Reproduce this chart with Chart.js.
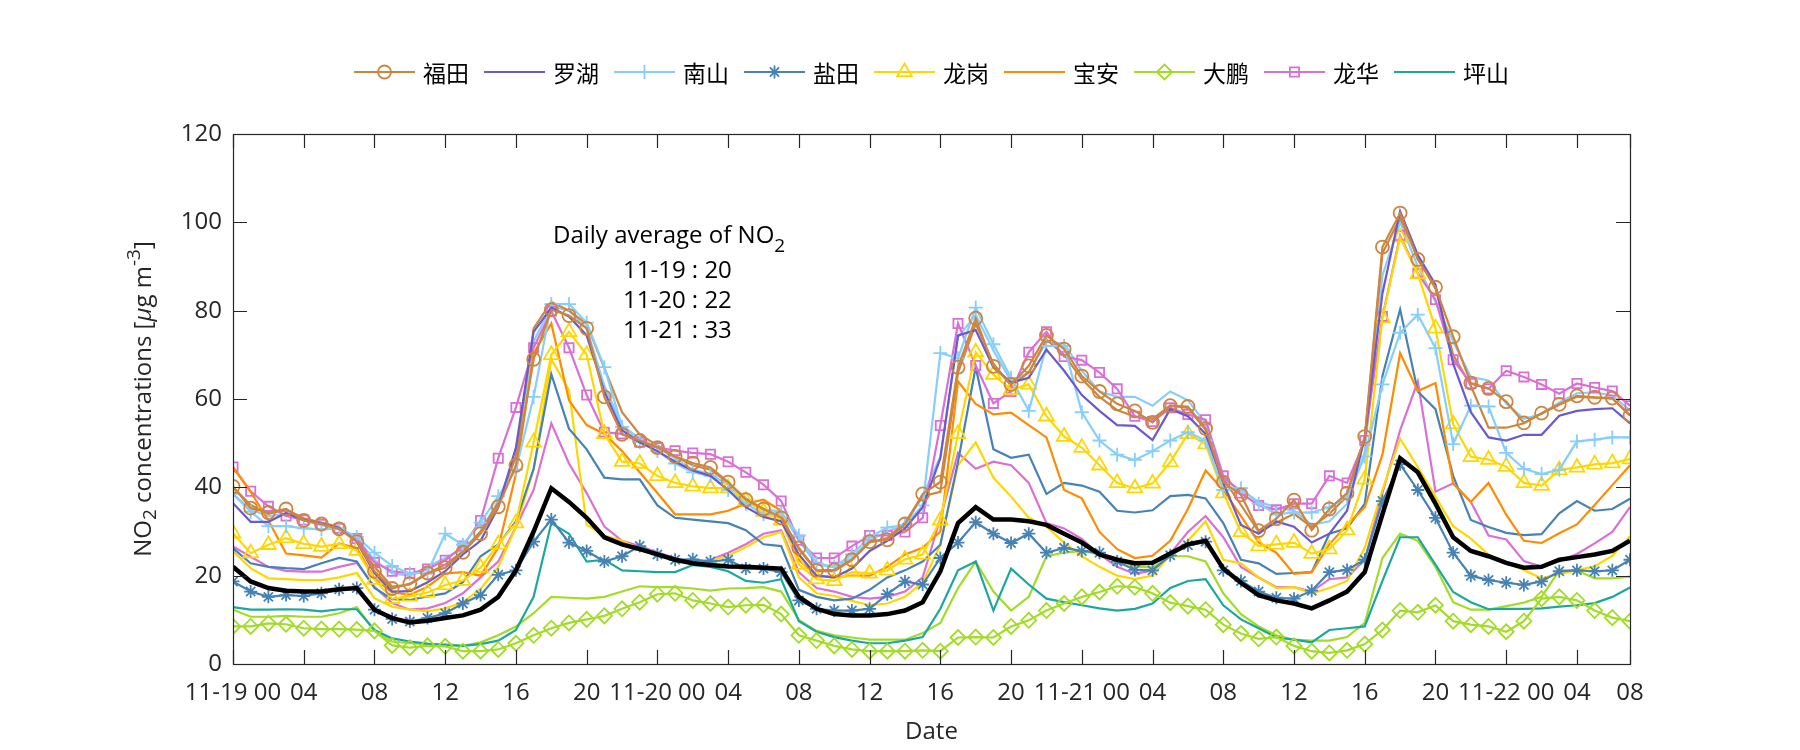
<!DOCTYPE html>
<html>
<head>
<meta charset="utf-8">
<script src="https://cdn.jsdelivr.net/npm/chart.js@4.4.1/dist/chart.umd.min.js"></script>
<style>
html,body{margin:0;padding:0;background:#ffffff;}
#wrap{width:1800px;height:750px;position:relative;}
canvas{display:block;}
</style>
</head>
<body>
<div id="wrap"><canvas id="c" width="1800" height="750" style="width:1800px;height:750px"></canvas></div>
<script>
// ---------- DATA ----------
// hourly steps from 11-19 00 (80 hourly points)
const hours = Array.from({length: 80}, (_, i) => i);
const tickHours = [0,4,8,12,16,20,24,28,32,36,40,44,48,52,56,60,64,68,72,76,79];
const tickLabels = ['11-19 00','04','08','12','16','20','11-20 00','04','08','12','16','20','11-21 00','04','08','12','16','20','11-22 00','04','08'];
const yTicksMax = 120;

const futian = [40.2,35.3,34.3,35.1,32.5,31.7,30.6,27.7,21.0,17.1,18.2,20.6,21.8,25.3,
 29.5,35.6,45.0,69.0,80.2,78.9,76.0,60.5,52.0,50.6,49.0,47.0,45.5,
 44.5,41.2,37.2,35.1,33.1,26.3,21.2,21.3,23.6,27.7,28.1,31.7,38.5,41.2,
 67.2,78.3,67.4,63.3,67.5,74.4,71.3,65.2,61.7,58.9,57.3,54.7,58.5,
 58.3,53.3,41.2,38.3,30.2,32.9,37.1,30.3,35.1,38.7,51.5,94.4,102.1,
 91.6,85.3,74.1,63.6,62.4,59.4,54.6,56.8,58.8,60.7,60.4,60.2,56.3];
const futian2 = [40.0,36.0,34.0,35.0,33.0,32.0,31.0,28.0,22.0,17.5,18.0,20.5,22.5,25.5,
 30.0,36.5,47.0,76.0,82.0,80.0,77.0,67.0,57.0,52.0,49.5,47.0,45.0,
 44.0,41.0,37.5,35.0,33.5,26.0,21.0,21.0,23.5,27.5,28.5,32.0,38.0,39.0,
 66.0,77.0,68.0,63.0,66.0,73.5,70.0,64.5,60.5,57.5,56.0,55.5,58.5,
 58.0,53.0,42.0,36.0,30.0,32.0,34.0,31.0,34.0,38.0,51.0,93.0,101.0,
 92.0,85.0,70.0,63.0,53.5,53.5,54.5,56.7,58.7,60.5,60.3,60.1,56.3];
const luohu = [36.4,32.2,32.2,34.2,32.6,31.8,30.8,27.7,20.6,16.4,16.5,18.5,21.0,24.8,
 27.9,35.5,49.0,75.2,80.7,78.7,74.4,61.7,52.9,50.2,48.2,45.8,43.8,
 42.6,39.4,35.5,33.3,32.3,24.8,20.0,19.6,21.6,25.6,27.9,30.7,35.5,46.6,
 74.4,75.6,67.2,63.7,64.8,71.2,66.4,60.9,57.3,54.1,53.9,50.7,57.7,
 56.1,52.1,41.0,31.5,29.5,32.3,31.1,27.5,29.5,34.7,51.3,83.9,102.5,
 92.6,85.9,68.0,57.0,51.3,50.6,51.9,51.9,56.2,57.3,57.7,57.9,54.5];
const nanshan = [38.5,34.5,31.2,31.2,30.7,30.5,30.7,28.8,25.2,22.2,20.5,20.7,29.5,27.0,
 32.0,38.0,44.0,60.5,81.5,81.5,77.3,67.2,53.7,50.2,48.2,45.4,43.4,
 42.6,39.4,36.3,33.9,34.3,29.1,22.8,22.0,24.8,28.7,30.9,31.5,35.9,70.4,
 69.2,80.7,72.4,64.8,57.3,72.0,72.0,57.0,50.6,47.4,46.2,48.2,50.6,
 52.5,50.6,39.4,39.8,36.3,33.9,34.3,34.3,35.5,38.0,47.0,63.3,75.0,
 79.1,71.5,49.8,58.5,58.3,47.8,44.2,43.0,44.0,50.4,50.8,51.3,51.3];
const nanshan2 = [38.5,35.0,33.5,34.0,32.5,31.5,30.5,28.5,23.5,20.5,20.0,22.0,24.0,26.0,
 30.0,37.0,47.0,73.0,81.0,80.0,76.0,63.0,54.0,51.0,49.0,46.5,44.0,
 43.0,40.5,37.5,35.0,34.5,28.0,22.5,22.0,24.0,28.0,30.0,31.5,38.0,47.0,
 74.0,79.0,71.0,64.0,66.0,73.0,72.5,66.4,61.7,60.5,60.5,58.5,61.7,
 59.7,54.5,41.8,39.4,36.7,35.5,34.7,31.5,32.3,36.3,48.0,88.0,100.0,
 90.0,82.0,73.0,65.0,64.2,59.0,55.5,56.6,59.2,61.3,61.5,60.8,57.4];
const yantian = [18.7,16.4,15.2,15.6,15.4,16.0,16.9,17.2,12.3,10.2,9.6,10.4,11.5,13.7,
 15.6,20.2,21.2,27.7,32.7,27.5,25.6,23.2,24.4,26.7,24.8,23.6,23.7,
 23.2,23.6,21.6,21.6,20.8,14.4,12.5,12.1,12.1,12.5,15.8,18.7,18.0,24.0,
 27.5,32.1,29.5,27.4,29.5,25.2,26.3,25.6,25.2,23.2,21.3,21.2,24.6,
 26.9,27.7,21.2,18.8,16.4,15.0,14.8,16.6,20.8,21.3,23.6,36.9,45.2,
 39.4,33.1,25.2,20.0,19.0,18.4,17.9,18.7,21.0,21.2,21.0,21.2,23.6];
const yantian2 = [26.2,22.8,22.0,21.7,21.5,22.8,24.0,23.2,17.2,14.7,14.5,15.3,16.0,18.5,
 24.4,27.1,32.3,44.2,65.6,53.3,48.6,42.2,41.8,41.8,35.9,33.1,32.7,
 32.3,31.9,30.3,27.1,26.7,16.8,15.2,14.4,14.8,16.8,19.6,21.2,23.2,27.0,
 45.8,67.2,48.6,46.7,47.4,38.5,41.0,40.4,39.0,34.7,34.3,34.8,38.0,
 38.3,37.5,31.9,23.6,22.8,20.4,20.6,20.8,29.5,30.7,36.3,65.2,80.3,
 61.7,57.7,42.6,32.6,31.0,29.7,29.2,29.4,34.1,36.9,34.7,35.1,37.4];
const longgang = [29.6,25.1,27.0,28.5,27.2,26.6,27.2,25.7,19.1,14.8,15.3,16.2,17.9,18.9,
 21.8,27.1,31.9,50.2,70.0,75.2,70.0,52.1,45.8,45.4,42.6,41.0,40.2,
 39.8,39.8,37.0,34.5,32.5,22.5,19.2,18.8,20.8,20.5,21.2,23.7,24.8,32.5,
 52.1,70.6,65.5,62.1,63.3,56.1,51.5,49.0,45.0,41.0,39.8,40.9,45.7,
 52.1,49.8,38.7,29.9,26.7,27.1,27.5,25.0,26.0,30.3,41.8,78.3,96.6,
 88.3,76.0,54.3,46.9,46.3,44.7,41.0,40.4,43.9,44.5,45.2,45.5,46.4];
const longgang2 = [25.5,21.7,19.4,19.2,19.0,19.0,19.6,20.6,14.9,13.0,12.3,11.9,12.6,14.0,
 17.0,22.0,31.0,44.0,69.0,62.0,31.5,29.1,27.9,26.0,24.8,23.6,22.8,
 23.5,24.5,26.5,28.7,29.9,19.6,16.0,15.4,14.3,13.3,13.7,15.2,18.4,27.0,
 45.0,50.2,42.2,37.9,33.1,31.1,27.5,24.4,22.0,20.0,19.2,20.0,24.8,
 27.9,32.3,23.6,22.8,19.6,17.2,17.4,16.0,17.2,18.8,26.3,39.4,51.0,
 44.6,37.9,31.2,28.4,24.8,22.9,21.3,19.4,20.4,21.2,22.1,24.5,28.9];
const baoan = [44.5,39.0,32.5,25.0,24.6,24.1,27.3,26.3,19.4,16.2,15.7,17.5,20.5,20.8,
 20.0,26.3,43.0,70.4,77.1,59.7,54.1,52.1,48.2,43.4,38.7,33.9,33.9,
 33.9,34.7,36.3,37.2,34.7,23.6,20.0,19.6,20.0,20.0,22.0,24.8,26.3,30.0,
 64.0,58.9,56.5,56.9,54.1,51.3,39.4,37.5,29.9,26.0,24.0,24.5,27.9,
 35.1,43.8,39.4,33.5,27.5,25.2,20.4,20.8,27.1,31.5,35.5,47.4,70.4,
 61.8,63.6,40.9,36.7,41.0,33.8,27.9,27.4,29.6,31.6,36.0,40.5,45.0];
const dapeng = [8.5,8.5,9.2,9.0,8.1,7.9,7.9,7.8,7.5,4.2,3.7,4.1,4.0,2.9,
 2.9,3.3,4.7,6.5,8.1,9.3,10.1,10.9,12.5,14.0,15.8,16.0,14.4,
 13.7,12.9,13.3,13.4,11.3,6.5,5.3,4.1,3.3,2.9,2.9,2.9,3.1,2.9,
 6.0,6.1,6.0,8.5,9.9,12.1,13.7,15.2,16.3,17.6,17.4,16.0,13.9,
 13.1,12.3,8.9,6.9,5.7,6.1,4.1,2.9,2.5,3.1,4.5,7.7,12.1,
 11.7,13.3,9.7,8.9,8.5,7.3,9.7,14.8,15.2,14.4,12.1,10.5,9.7];
const dapeng2 = [12.3,10.7,10.7,10.9,10.7,10.7,11.5,12.9,7.5,5.1,4.7,4.5,4.5,4.1,
 4.9,6.5,8.5,11.5,15.2,15.0,14.8,15.2,16.4,17.6,17.4,17.4,17.1,
 16.6,17.1,17.2,17.4,16.4,10.0,7.5,6.5,6.0,5.5,5.5,5.5,7.0,9.3,
 17.2,23.2,16.4,12.1,15.2,24.4,25.2,25.6,24.8,23.6,22.1,21.8,24.4,
 24.4,23.2,16.0,11.3,8.5,6.5,5.5,5.3,5.3,6.1,9.3,24.0,29.5,
 27.9,22.0,14.0,12.3,12.3,13.1,13.9,15.2,21.2,21.2,19.4,19.4,19.8];
const longhua = [44.6,39.1,35.7,33.5,32.6,31.6,30.7,28.4,23.0,21.0,20.5,21.5,23.5,26.7,
 32.5,46.6,58.1,71.6,79.9,71.6,60.9,52.5,52.1,50.2,49.0,48.3,47.8,
 47.5,45.8,43.4,40.6,36.9,28.0,24.0,24.0,26.7,29.1,29.1,29.9,33.1,54.0,
 77.1,67.6,59.0,61.7,70.6,75.2,69.6,68.8,66.0,62.3,56.1,54.9,58.0,
 56.5,55.3,42.6,38.7,35.9,34.9,36.3,36.3,42.6,41.0,50.6,78.7,97.0,
 88.5,82.5,68.9,63.5,62.3,66.4,65.0,63.3,61.2,63.5,62.6,61.8,58.5];
const longhua2 = [26.6,24.3,22.0,21.1,20.9,20.9,22.0,22.9,17.5,13.8,12.3,12.6,13.8,16.0,
 19.6,23.2,31.0,39.4,54.5,45.4,38.7,31.1,27.9,26.7,25.3,24.0,22.9,
 23.6,25.2,27.1,29.5,30.3,20.8,17.2,16.4,15.2,14.8,15.2,16.4,19.6,33.0,
 47.8,44.2,45.8,45.0,41.0,31.9,30.7,28.3,24.8,22.0,20.4,21.2,25.0,
 29.9,33.5,28.7,22.0,19.6,17.4,17.4,16.4,19.2,19.6,23.6,38.7,52.9,
 64.0,39.0,40.9,36.7,29.1,28.2,23.3,22.0,23.3,24.9,27.3,29.9,35.5];
const pingshan = [12.9,12.3,12.3,12.4,12.3,11.9,12.4,12.4,7.7,5.8,5.1,4.6,4.3,4.1,
 4.5,5.3,7.7,15.2,31.9,29.5,23.2,23.6,21.2,21.0,20.8,20.8,22.4,
 22.0,21.0,18.8,18.4,19.2,9.7,7.3,6.1,5.3,4.7,4.7,5.3,6.1,12.5,
 21.2,23.2,12.1,21.6,18.0,14.8,14.0,13.3,12.6,12.1,12.5,13.7,17.2,
 18.8,19.2,13.3,10.1,8.1,6.0,5.5,4.9,7.7,8.1,8.5,18.8,28.7,
 28.7,22.5,16.3,14.0,12.4,12.5,12.5,12.6,13.0,13.3,13.8,15.2,17.3];
const cityAverage = [22.0,18.7,17.2,16.6,16.4,16.4,16.9,17.2,12.3,10.4,9.4,9.8,10.4,11.0,
 12.3,15.2,21.2,30.0,39.8,36.7,33.1,28.7,27.1,26.0,24.8,23.6,22.8,
 22.4,22.1,22.0,21.8,21.6,15.2,12.5,11.3,11.0,11.0,11.3,12.1,14.0,21.0,
 31.9,35.5,32.7,32.7,32.3,31.5,29.5,27.5,24.8,23.6,22.8,22.9,25.0,
 27.1,27.9,21.6,18.4,15.6,14.4,13.7,12.6,14.4,16.4,20.8,33.9,46.6,
 43.4,36.3,28.7,25.6,24.4,22.9,21.8,22.0,23.6,24.2,24.8,25.6,27.9];

const dailyDays = ['11-19','11-20','11-21'];
const dailyMeans = [20, 22, 33];

// ---------- STYLE ----------
const FONT = '"Open Sans", "Noto Sans", "DejaVu Sans", sans-serif';
const CJK = '"Noto Sans CJK SC", "Noto Sans", sans-serif';
const AXC = '#262626';

const named = [
  {label:'福田', data:futian,   color:'#CD853F', marker:'circle',   r:6.5},
  {label:'罗湖', data:luohu,    color:'#6A5ACD', marker:false,      r:0},
  {label:'南山', data:nanshan,  color:'#87CEFA', marker:'cross',    r:7},
  {label:'盐田', data:yantian,  color:'#4682B4', marker:'star',     r:6.5},
  {label:'龙岗', data:longgang, color:'#FFD700', marker:'triangle', r:8.5},
  {label:'宝安', data:baoan,    color:'#FF8C00', marker:false,      r:0},
  {label:'大鹏', data:dapeng,   color:'#A2DC26', marker:'rectRot',  r:7.5},
  {label:'龙华', data:longhua,  color:'#DA70D6', marker:'rect',     r:6.5},
  {label:'坪山', data:pingshan, color:'#1AA89E', marker:false,      r:0}
];
const extra = [
  {data:futian2,   color:'#CD853F'},
  {data:nanshan2,  color:'#87CEFA'},
  {data:yantian2,  color:'#4682B4'},
  {data:longgang2, color:'#FFD700'},
  {data:dapeng2,   color:'#A2DC26'},
  {data:longhua2,  color:'#DA70D6'}
];

const toPts = arr => arr.map((v, i) => ({x: hours[i], y: v}));

const datasets = [];
datasets.push({label:'average', data: toPts(cityAverage), borderColor:'#000000', borderWidth:4.5,
  pointRadius:0, pointHoverRadius:0, fill:false, tension:0, order:0, inLegend:false});
named.forEach(s => datasets.push({
  label:s.label, data: toPts(s.data), borderColor:s.color, borderWidth:2.2, fill:false, tension:0,
  pointStyle: s.marker || 'circle', pointRadius: s.marker ? s.r : 0, pointHoverRadius: s.marker ? s.r : 0,
  pointBorderColor:s.color, pointBackgroundColor:'rgba(0,0,0,0)', pointBorderWidth:1.8,
  order:1, inLegend:true, markerKind:s.marker, markerR:s.r
}));
extra.forEach(s => datasets.push({
  label:'', data: toPts(s.data), borderColor:s.color, borderWidth:2.2, fill:false, tension:0,
  pointRadius:0, pointHoverRadius:0, order:2, inLegend:false
}));

// ---------- helpers ----------
function drawMarker(ctx, kind, x, y, r, color, lw) {
  if (!kind) return;
  ctx.save();
  ctx.strokeStyle = color; ctx.lineWidth = lw; ctx.beginPath();
  const s = Math.SQRT1_2 * r;
  switch (kind) {
    case 'circle': ctx.arc(x, y, r, 0, Math.PI * 2); ctx.closePath(); break;
    case 'cross': ctx.moveTo(x, y - r); ctx.lineTo(x, y + r); ctx.moveTo(x - r, y); ctx.lineTo(x + r, y); break;
    case 'star':
      ctx.moveTo(x, y - r); ctx.lineTo(x, y + r); ctx.moveTo(x - r, y); ctx.lineTo(x + r, y);
      ctx.moveTo(x - s, y - s); ctx.lineTo(x + s, y + s); ctx.moveTo(x - s, y + s); ctx.lineTo(x + s, y - s); break;
    case 'triangle': {
      const half = r * Math.sqrt(3) / 2;
      ctx.moveTo(x, y - r); ctx.lineTo(x + half, y + r / 2); ctx.lineTo(x - half, y + r / 2); ctx.closePath(); break; }
    case 'rectRot': ctx.moveTo(x - r, y); ctx.lineTo(x, y - r); ctx.lineTo(x + r, y); ctx.lineTo(x, y + r); ctx.closePath(); break;
    case 'rect': ctx.rect(x - s, y - s, 2 * s, 2 * s); break;
  }
  ctx.stroke(); ctx.restore();
}
function richWidth(ctx, pieces) {
  let w = 0;
  for (const p of pieces) { ctx.font = (p.italic ? 'italic ' : '') + p.size + 'px ' + FONT; w += ctx.measureText(p.t).width; }
  return w;
}
function drawRich(ctx, pieces, x, y) {
  let cx = x;
  for (const p of pieces) {
    ctx.font = (p.italic ? 'italic ' : '') + p.size + 'px ' + FONT;
    ctx.fillText(p.t, cx, y + (p.dy || 0));
    cx += ctx.measureText(p.t).width;
  }
}

const decor = {
  id: 'decor',
  afterDraw(chart) {
    const {ctx, chartArea: a, scales: {x, y}} = chart;
    ctx.save();
    // axes box
    ctx.strokeStyle = AXC; ctx.lineWidth = 1.2;
    ctx.strokeRect(Math.round(a.left) + 0.5, Math.round(a.top) + 0.5, Math.round(a.right - a.left), Math.round(a.bottom - a.top));
    // inward ticks (box on)
    const TL = 14;
    ctx.beginPath();
    tickHours.forEach(v => {
      const px = Math.round(x.getPixelForValue(v)) + 0.5;
      ctx.moveTo(px, a.bottom); ctx.lineTo(px, a.bottom - TL);
      ctx.moveTo(px, a.top); ctx.lineTo(px, a.top + TL);
    });
    y.ticks.forEach(t => {
      const py = Math.round(y.getPixelForValue(t.value)) + 0.5;
      ctx.moveTo(a.left, py); ctx.lineTo(a.left + TL, py);
      ctx.moveTo(a.right, py); ctx.lineTo(a.right - TL, py);
    });
    ctx.stroke();

    // y axis title with sub/superscripts
    ctx.fillStyle = AXC; ctx.textBaseline = 'middle'; ctx.textAlign = 'left';
    const yt = [
      {t:'NO', size:24}, {t:'2', size:19, dy:7}, {t:' concentrations [', size:24},
      {t:'\u03BC', size:24, italic:true}, {t:'g m', size:24}, {t:'-3', size:19, dy:-9}, {t:']', size:24}
    ];
    const w = richWidth(ctx, yt);
    ctx.save();
    ctx.translate(144, (a.top + a.bottom) / 2);
    ctx.rotate(-Math.PI / 2);
    drawRich(ctx, yt, -w / 2, 0);
    ctx.restore();

    // daily average annotation
    ctx.fillStyle = '#000000'; ctx.textBaseline = 'alphabetic';
    drawRich(ctx, [{t:'Daily average of NO', size:24}, {t:'2', size:19, dy:9}], 553, 243);
    dailyDays.forEach((d, i) => {
      ctx.font = '24px ' + FONT;
      ctx.fillText(d + ' : ' + dailyMeans[i], 623, 278 + i * 30);
    });

    // legend
    const items = chart.data.datasets.filter(d => d.inLegend);
    ctx.font = '23px ' + CJK;
    const LINE = 61, GAP = 8, SPACE = 15;
    const widths = items.map(d => LINE + GAP + ctx.measureText(d.label).width);
    const total = widths.reduce((s, v) => s + v, 0) + SPACE * (items.length - 1);
    let lx = (a.left + a.right) / 2 - total / 2;
    const ly = 72;
    items.forEach((d, i) => {
      ctx.strokeStyle = d.borderColor; ctx.lineWidth = 2.2;
      ctx.beginPath(); ctx.moveTo(lx, ly); ctx.lineTo(lx + LINE, ly); ctx.stroke();
      drawMarker(ctx, d.markerKind, lx + LINE / 2, ly, d.markerR, d.borderColor, 1.8);
      ctx.fillStyle = '#000000'; ctx.font = '23px ' + CJK; ctx.textBaseline = 'middle';
      ctx.fillText(d.label, lx + LINE + GAP, ly + 1);
      lx += widths[i] + SPACE;
    });
    ctx.restore();
  }
};

new Chart(document.getElementById('c'), {
  type: 'line',
  data: { datasets },
  options: {
    responsive: false,
    animation: false,
    devicePixelRatio: 1,
    layout: { padding: { left: 0, right: 170, top: 134, bottom: 0 } },
    plugins: { legend: { display: false }, tooltip: { enabled: false } },
    events: [],
    scales: {
      x: {
        type: 'linear', min: 0, max: 79,
        afterBuildTicks: s => { s.ticks = tickHours.map(v => ({ value: v })); },
        afterFit: s => { s.height = 86; },
        grid: { display: false, drawTicks: false },
        border: { display: false },
        ticks: {
          autoSkip: false, maxRotation: 0, minRotation: 0, padding: 15,
          color: AXC, font: { family: FONT, size: 24 },
          callback: (v, i) => tickLabels[i]
        },
        title: { display: true, text: 'Date', color: AXC, font: { family: FONT, size: 24 }, padding: { top: 0, bottom: 3 } }
      },
      y: {
        type: 'linear', min: 0, max: yTicksMax,
        afterFit: s => { s.width = 233; },
        grid: { display: false, drawTicks: false },
        border: { display: false },
        ticks: { stepSize: 20, padding: 11, color: AXC, font: { family: FONT, size: 24 } }
      }
    }
  },
  plugins: [decor]
});
</script>
</body>
</html>
